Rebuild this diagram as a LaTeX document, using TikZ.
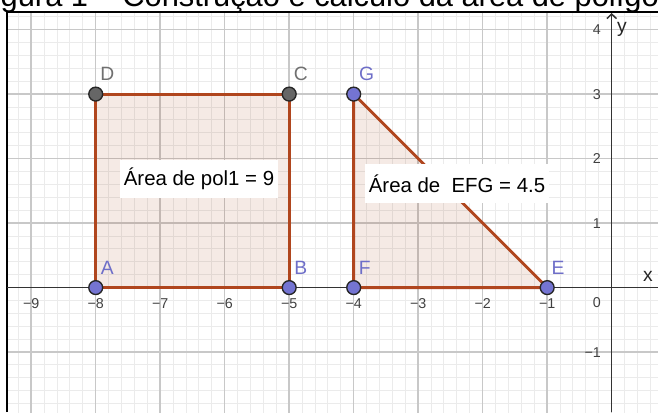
\documentclass[tikz,border=0pt]{standalone}
\usepackage{fontspec}
\setmainfont{Liberation Sans}
\usetikzlibrary{arrows.meta,calc}
\definecolor{polyedge}{HTML}{B0461E}
\definecolor{polyfill}{HTML}{993300}
\definecolor{ptblue}{HTML}{7474D2}
\definecolor{lblblue}{HTML}{6E6EC8}
\definecolor{ptgray}{HTML}{666666}
\definecolor{lblgray}{HTML}{707070}
\definecolor{majorgrid}{HTML}{C8C8C8}
\definecolor{minorgrid}{HTML}{EBEBEB}
\definecolor{axiscol}{HTML}{333333}
\begin{document}
\begin{tikzpicture}[
  ptb/.style={circle, draw=black!85, line width=0.6pt, fill=ptblue, minimum size=0.215cm, inner sep=0pt},
  ptg/.style={ptb, fill=ptgray},
  lblb/.style={text=lblblue, font=\fontsize{8.5}{10}\selectfont, inner sep=0pt},
  lblg/.style={lblb, text=lblgray},
  ticklbl/.style={text=black!75, font=\fontsize{6.3}{7}\selectfont, inner sep=0pt},
  axlbl/.style={text=black!85, font=\fontsize{8.5}{10}\selectfont, inner sep=0pt},
  areabox/.style={fill=white, inner sep=0pt, font=\fontsize{9}{11}\selectfont, text=black},
  polyline/.style={draw=polyedge, line width=1.3pt, line join=round},
  polyarea/.style={fill=polyfill, fill opacity=0.1},
  axisline/.style={draw=axiscol, line width=0.66pt}
]
\useasboundingbox (-9.484,-1.929) rectangle (0.718,4.459);
% title (cut off at the top, as in the reference)
\begin{scope}
\clip (-9.484,-1.929) rectangle (0.718,4.459);
\node[anchor=base west, inner sep=0pt, font=\fontsize{13.6}{16}\selectfont] (title) at (-9.48,4.365) {gura 1 – Construção e cálculo da área de polígo};
\end{scope}
% grid
\begin{scope}
\clip (-9.375,-1.929) rectangle (0.718,4.28);
\draw[minorgrid, line width=0.44pt] (-9.6,-2.2) grid[step=0.2] (0.8,4.4);
\draw[majorgrid, line width=0.66pt] (-9.6,-2.2) grid[step=1] (0.8,4.4);
\end{scope}
% frame
\coordinate (fbl) at (-9.375,-1.929);
\coordinate (ftl) at (-9.375,4.28);
\coordinate (ftr) at (0.718,4.28);
\draw[black, line width=0.9pt] (fbl) -- (ftl) -- (ftr);
% axes
\coordinate (xl) at (-9.375,0);
\coordinate (xr) at (0.718,0);
\coordinate (yb) at (0,-1.929);
\coordinate (yt) at (0,4.257);
\draw[axisline] (xl) -- (xr);
\draw[axisline, -{Straight Barb[length=2pt,width=4.2pt]}] (yb) -- (yt);
% points
\coordinate (A) at (-8,0);
\coordinate (B) at (-5,0);
\coordinate (C) at (-5,3);
\coordinate (D) at (-8,3);
\coordinate (E) at (-1,0);
\coordinate (F) at (-4,0);
\coordinate (G) at (-4,3);
% polygons
\fill[polyarea] (A) -- (B) -- (C) -- (D) -- cycle;
\fill[polyarea] (E) -- (F) -- (G) -- cycle;
\draw[polyline] (A) -- (B) -- (C) -- (D) -- cycle;
\draw[polyline] (E) -- (F) -- (G) -- cycle;
% area labels
\node[areabox, minimum width=2.45cm, minimum height=0.588cm] (area1) at (-6.398,1.683) {Área de pol1 = 9};
\node[areabox, minimum width=2.854cm, minimum height=0.604cm] (area2) at (-2.398,1.614) {Área de~~EFG = 4.5};
% tick labels
\foreach \i in {1,...,9} \node[ticklbl] (xt\i) at (-\i,-0.25) {−\i};
\node[ticklbl, anchor=east] (yt0) at (-0.16,-0.233) {0};
\node[ticklbl, anchor=east] (ytm1) at (-0.16,-1) {−1};
\foreach \j in {1,...,4} \node[ticklbl, anchor=east] (yt\j) at (-0.16,\j) {\j};
\node[axlbl] (xlabel) at (0.563,0.18) {x};
\node[axlbl] (ylabel) at (0.16,4.0) {y};
% point markers
\node[ptb] (pA) at (A) {};
\node[ptb] (pB) at (B) {};
\node[ptg] (pC) at (C) {};
\node[ptg] (pD) at (D) {};
\node[ptb] (pE) at (E) {};
\node[ptb] (pF) at (F) {};
\node[ptb] (pG) at (G) {};
% point labels
\node[lblb] (lA) at ($(A)+(0.18,0.31)$) {A};
\node[lblb] (lB) at ($(B)+(0.18,0.31)$) {B};
\node[lblg] (lC) at ($(C)+(0.18,0.31)$) {C};
\node[lblg] (lD) at ($(D)+(0.18,0.31)$) {D};
\node[lblb] (lE) at ($(E)+(0.17,0.31)$) {E};
\node[lblb] (lF) at ($(F)+(0.17,0.31)$) {F};
\node[lblb] (lG) at ($(G)+(0.2,0.31)$) {G};
\end{tikzpicture}
\end{document}
